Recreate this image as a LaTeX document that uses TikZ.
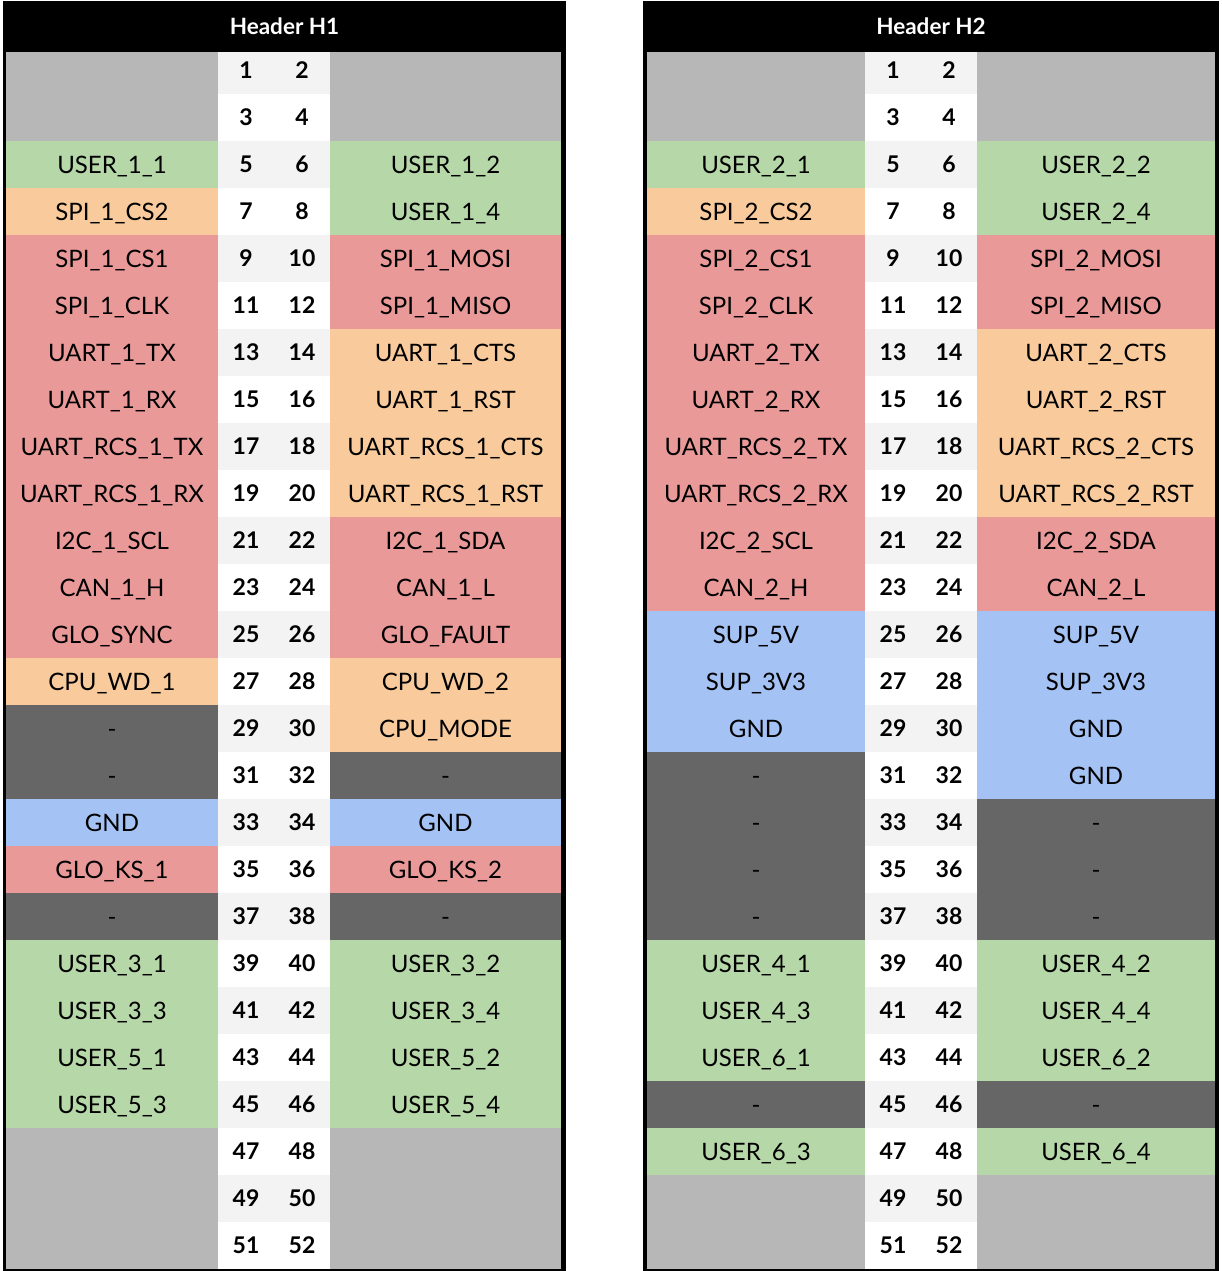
\documentclass[tikz,border=0pt]{standalone}
\usepackage{fontspec}
\setmainfont{Lato}
\usetikzlibrary{positioning}

\definecolor{pinempty}{HTML}{B7B7B7}
\definecolor{pingreen}{HTML}{B6D7A8}
\definecolor{pinorange}{HTML}{F9CB9C}
\definecolor{pinred}{HTML}{EA9999}
\definecolor{pindark}{HTML}{666666}
\definecolor{pinblue}{HTML}{A4C2F4}
\definecolor{numodd}{HTML}{F3F3F3}

\tikzset{
  sigcell/.style={inner sep=0, outer sep=0, anchor=north west, minimum height=47pt,
    text height=17pt, text depth=0pt, font=\fontsize{24}{26}\selectfont},
  pinnum/.style={inner sep=0, text height=16.5pt, text depth=0pt,
    font=\fontsize{23}{25}\selectfont\bfseries},
  headbar/.style={fill=black, text=white, inner sep=0, outer sep=0, anchor=north west,
    minimum height=51pt, text height=16pt, text depth=0pt,
    font=\fontsize{22.5}{24}\selectfont\bfseries},
}

% #1 header, #2 row, #3 left colour, #4 left signal, #5 right colour, #6 right signal
\newcommand\pinrow[6]{%
  \pgfmathtruncatemacro\pa{2*#2-1}\pgfmathtruncatemacro\pb{2*#2}%
  \pgfmathtruncatemacro\ytop{47*#2}%
  \ifodd#2 \def\numfill{numodd}\else\def\numfill{white}\fi
  \node[sigcell, fill=#3, minimum width=\wl pt] (#1l#2) at (\xa,\ytop) {#4};
  \node[sigcell, fill=\numfill, minimum width=112pt] (#1n#2) at (\xb,\ytop) {};
  \node[sigcell, fill=#5, minimum width=\wr pt] (#1r#2) at (\xc,\ytop) {#6};
  \node[pinnum] (#1p\pa) at ([xshift=-28pt]#1n#2.center) {\pa};
  \node[pinnum] (#1p\pb) at ([xshift=28pt]#1n#2.center) {\pb};
}

\begin{document}
\begin{tikzpicture}[x=1pt, y=-1pt]
\useasboundingbox (0,0) rectangle (1221,1271);

%% Header H1
\fill[black] (3,1) rectangle (566,1271);
\def\xa{6}\def\xb{218}\def\xc{330}\def\wl{212}\def\wr{231}
\pinrow{ha}{1}{pinempty}{}{pinempty}{}
\pinrow{ha}{2}{pinempty}{}{pinempty}{}
\pinrow{ha}{3}{pingreen}{USER\_1\_1}{pingreen}{USER\_1\_2}
\pinrow{ha}{4}{pinorange}{SPI\_1\_CS2}{pingreen}{USER\_1\_4}
\pinrow{ha}{5}{pinred}{SPI\_1\_CS1}{pinred}{SPI\_1\_MOSI}
\pinrow{ha}{6}{pinred}{SPI\_1\_CLK}{pinred}{SPI\_1\_MISO}
\pinrow{ha}{7}{pinred}{UART\_1\_TX}{pinorange}{UART\_1\_CTS}
\pinrow{ha}{8}{pinred}{UART\_1\_RX}{pinorange}{UART\_1\_RST}
\pinrow{ha}{9}{pinred}{UART\_RCS\_1\_TX}{pinorange}{UART\_RCS\_1\_CTS}
\pinrow{ha}{10}{pinred}{UART\_RCS\_1\_RX}{pinorange}{UART\_RCS\_1\_RST}
\pinrow{ha}{11}{pinred}{I2C\_1\_SCL}{pinred}{I2C\_1\_SDA}
\pinrow{ha}{12}{pinred}{CAN\_1\_H}{pinred}{CAN\_1\_L}
\pinrow{ha}{13}{pinred}{GLO\_SYNC}{pinred}{GLO\_FAULT}
\pinrow{ha}{14}{pinorange}{CPU\_WD\_1}{pinorange}{CPU\_WD\_2}
\pinrow{ha}{15}{pindark}{-}{pinorange}{CPU\_MODE}
\pinrow{ha}{16}{pindark}{-}{pindark}{-}
\pinrow{ha}{17}{pinblue}{GND}{pinblue}{GND}
\pinrow{ha}{18}{pinred}{GLO\_KS\_1}{pinred}{GLO\_KS\_2}
\pinrow{ha}{19}{pindark}{-}{pindark}{-}
\pinrow{ha}{20}{pingreen}{USER\_3\_1}{pingreen}{USER\_3\_2}
\pinrow{ha}{21}{pingreen}{USER\_3\_3}{pingreen}{USER\_3\_4}
\pinrow{ha}{22}{pingreen}{USER\_5\_1}{pingreen}{USER\_5\_2}
\pinrow{ha}{23}{pingreen}{USER\_5\_3}{pingreen}{USER\_5\_4}
\pinrow{ha}{24}{pinempty}{}{pinempty}{}
\pinrow{ha}{25}{pinempty}{}{pinempty}{}
\pinrow{ha}{26}{pinempty}{}{pinempty}{}
\node[headbar, minimum width=563pt] (hahead) at (3,1) {Header H1};

%% Header H2
\fill[black] (643,1) rectangle (1219,1271);
\def\xa{647}\def\xb{865}\def\xc{977}\def\wl{218}\def\wr{238}
\pinrow{hb}{1}{pinempty}{}{pinempty}{}
\pinrow{hb}{2}{pinempty}{}{pinempty}{}
\pinrow{hb}{3}{pingreen}{USER\_2\_1}{pingreen}{USER\_2\_2}
\pinrow{hb}{4}{pinorange}{SPI\_2\_CS2}{pingreen}{USER\_2\_4}
\pinrow{hb}{5}{pinred}{SPI\_2\_CS1}{pinred}{SPI\_2\_MOSI}
\pinrow{hb}{6}{pinred}{SPI\_2\_CLK}{pinred}{SPI\_2\_MISO}
\pinrow{hb}{7}{pinred}{UART\_2\_TX}{pinorange}{UART\_2\_CTS}
\pinrow{hb}{8}{pinred}{UART\_2\_RX}{pinorange}{UART\_2\_RST}
\pinrow{hb}{9}{pinred}{UART\_RCS\_2\_TX}{pinorange}{UART\_RCS\_2\_CTS}
\pinrow{hb}{10}{pinred}{UART\_RCS\_2\_RX}{pinorange}{UART\_RCS\_2\_RST}
\pinrow{hb}{11}{pinred}{I2C\_2\_SCL}{pinred}{I2C\_2\_SDA}
\pinrow{hb}{12}{pinred}{CAN\_2\_H}{pinred}{CAN\_2\_L}
\pinrow{hb}{13}{pinblue}{SUP\_5V}{pinblue}{SUP\_5V}
\pinrow{hb}{14}{pinblue}{SUP\_3V3}{pinblue}{SUP\_3V3}
\pinrow{hb}{15}{pinblue}{GND}{pinblue}{GND}
\pinrow{hb}{16}{pindark}{-}{pinblue}{GND}
\pinrow{hb}{17}{pindark}{-}{pindark}{-}
\pinrow{hb}{18}{pindark}{-}{pindark}{-}
\pinrow{hb}{19}{pindark}{-}{pindark}{-}
\pinrow{hb}{20}{pingreen}{USER\_4\_1}{pingreen}{USER\_4\_2}
\pinrow{hb}{21}{pingreen}{USER\_4\_3}{pingreen}{USER\_4\_4}
\pinrow{hb}{22}{pingreen}{USER\_6\_1}{pingreen}{USER\_6\_2}
\pinrow{hb}{23}{pindark}{-}{pindark}{-}
\pinrow{hb}{24}{pingreen}{USER\_6\_3}{pingreen}{USER\_6\_4}
\pinrow{hb}{25}{pinempty}{}{pinempty}{}
\pinrow{hb}{26}{pinempty}{}{pinempty}{}
\node[headbar, minimum width=576pt] (hbhead) at (643,1) {Header H2};
\end{tikzpicture}
\end{document}
